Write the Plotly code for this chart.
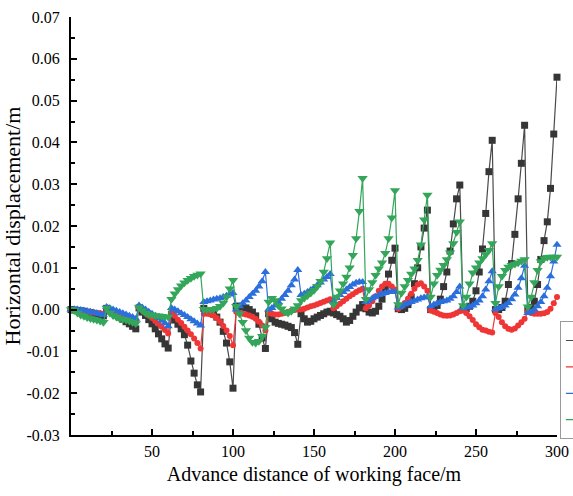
import plotly.graph_objects as go

# Advance distance of the working face (m), sampled every 2 m
advance = list(range(0, 302, 2))

# Horizontal displacement (m) of the four monitored series, one row per 20 m cycle
series_1 = [0.0,
    -0.0001, -0.0002, -0.0003, -0.0004, -0.0006, -0.0007, -0.0009, -0.0011, -0.0013, -0.0015,
    0.0003, -0.0003, -0.0008, -0.0013, -0.0018, -0.0023, -0.0029, -0.0034, -0.0040, -0.0046,
    0.0004, -0.0006, -0.0014, -0.0024, -0.0034, -0.0046, -0.0058, -0.0070, -0.0082, -0.0092,
    -0.0012, -0.0025, -0.0035, -0.0046, -0.0060, -0.0085, -0.0123, -0.0152, -0.0180, -0.0197,
    0.0003, -0.0002, -0.0006, -0.0011, -0.0018, -0.0030, -0.0052, -0.0080, -0.0125, -0.0188,
    0.0008, 0.0008, 0.0006, 0.0004, 0.0000, -0.0006, -0.0015, -0.0035, -0.0068, -0.0093,
    -0.0010, -0.0022, -0.0030, -0.0033, -0.0035, -0.0037, -0.0040, -0.0043, -0.0055, -0.0083,
    -0.0010, -0.0022, -0.0030, -0.0028, -0.0022, -0.0018, -0.0014, -0.0010, -0.0006, -0.0004,
    -0.0008, -0.0012, -0.0016, -0.0022, -0.0030, -0.0026, -0.0016, -0.0006, 0.0004, 0.0012,
    0.0002, -0.0006, -0.0008, -0.0004, 0.0008, 0.0025, 0.0050, 0.0085, 0.0118, 0.0147,
    0.0002, 0.0000, 0.0003, 0.0012, 0.0030, 0.0062, 0.0100, 0.0150, 0.0195, 0.0238,
    0.0000, 0.0003, 0.0010, 0.0025, 0.0055, 0.0090, 0.0140, 0.0205, 0.0265, 0.0298,
    0.0000, 0.0002, 0.0008, 0.0020, 0.0045, 0.0090, 0.0145, 0.0230, 0.0330, 0.0405,
    0.0000, 0.0000, 0.0005, 0.0020, 0.0060, 0.0110, 0.0180, 0.0265, 0.0350, 0.0441,
    0.0000, 0.0005, 0.0020, 0.0060, 0.0120, 0.0165, 0.0210, 0.0290, 0.0420, 0.0556]

series_2 = [0.0,
    -0.0001, -0.0002, -0.0003, -0.0004, -0.0005, -0.0006, -0.0007, -0.0008, -0.0009, -0.0010,
    0.0002, -0.0001, -0.0004, -0.0007, -0.0010, -0.0013, -0.0016, -0.0019, -0.0022, -0.0025,
    0.0004, -0.0002, -0.0008, -0.0014, -0.0020, -0.0027, -0.0034, -0.0041, -0.0049, -0.0057,
    -0.0005, -0.0015, -0.0024, -0.0032, -0.0041, -0.0050, -0.0059, -0.0069, -0.0080, -0.0093,
    -0.0010, -0.0010, -0.0011, -0.0014, -0.0020, -0.0029, -0.0039, -0.0050, -0.0063, -0.0085,
    -0.0005, -0.0008, -0.0010, -0.0012, -0.0014, -0.0017, -0.0022, -0.0029, -0.0038, -0.0050,
    -0.0008, -0.0010, -0.0012, -0.0012, -0.0010, -0.0008, -0.0005, -0.0003, -0.0001, 0.0000,
    0.0000, 0.0002, 0.0005, 0.0008, 0.0010, 0.0013, 0.0016, 0.0019, 0.0022, 0.0025,
    0.0003, 0.0008, 0.0014, 0.0020, 0.0026, 0.0032, 0.0037, 0.0042, 0.0046, 0.0050,
    0.0003, 0.0010, 0.0020, 0.0032, 0.0045, 0.0055, 0.0062, 0.0062, 0.0055, 0.0048,
    0.0002, 0.0008, 0.0016, 0.0026, 0.0038, 0.0050, 0.0060, 0.0063, 0.0055, 0.0045,
    -0.0002, -0.0005, -0.0008, -0.0012, -0.0014, -0.0015, -0.0014, -0.0012, -0.0008, -0.0004,
    -0.0002, -0.0008, -0.0016, -0.0025, -0.0035, -0.0042, -0.0048, -0.0050, -0.0053, -0.0055,
    -0.0008, -0.0018, -0.0030, -0.0040, -0.0046, -0.0048, -0.0045, -0.0038, -0.0030, -0.0022,
    -0.0005, -0.0008, -0.0010, -0.0010, -0.0010, -0.0009, -0.0006, 0.0002, 0.0015, 0.0030]

series_3 = [0.0,
    0.0001, 0.0000, -0.0001, -0.0002, -0.0004, -0.0005, -0.0007, -0.0009, -0.0011, -0.0013,
    0.0006, 0.0003, 0.0000, -0.0003, -0.0006, -0.0009, -0.0012, -0.0015, -0.0018, -0.0022,
    0.0010, 0.0005, 0.0000, -0.0005, -0.0010, -0.0015, -0.0020, -0.0026, -0.0032, -0.0040,
    0.0004, 0.0000, -0.0004, -0.0009, -0.0013, -0.0018, -0.0023, -0.0028, -0.0033, -0.0038,
    0.0018, 0.0020, 0.0022, 0.0024, 0.0026, 0.0027, 0.0030, 0.0033, 0.0036, 0.0040,
    0.0000, 0.0008, 0.0015, 0.0022, 0.0030, 0.0038, 0.0045, 0.0055, 0.0068, 0.0090,
    0.0000, 0.0004, 0.0010, 0.0018, 0.0026, 0.0035, 0.0045, 0.0058, 0.0072, 0.0095,
    0.0035, 0.0038, 0.0042, 0.0047, 0.0052, 0.0058, 0.0065, 0.0072, 0.0078, 0.0085,
    0.0020, 0.0028, 0.0035, 0.0042, 0.0048, 0.0054, 0.0060, 0.0064, 0.0066, 0.0066,
    0.0018, 0.0022, 0.0027, 0.0031, 0.0035, 0.0038, 0.0040, 0.0042, 0.0043, 0.0043,
    0.0005, 0.0008, 0.0012, 0.0015, 0.0018, 0.0021, 0.0024, 0.0027, 0.0029, 0.0031,
    0.0008, 0.0012, 0.0015, 0.0018, 0.0020, 0.0022, 0.0026, 0.0032, 0.0042, 0.0055,
    0.0003, 0.0005, 0.0007, 0.0010, 0.0015, 0.0022, 0.0032, 0.0048, 0.0068, 0.0092,
    0.0001, 0.0003, 0.0006, 0.0010, 0.0016, 0.0025, 0.0036, 0.0052, 0.0075, 0.0105,
    -0.0008, -0.0006, 0.0000, 0.0008, 0.0018, 0.0032, 0.0052, 0.0080, 0.0115, 0.0155]

series_4 = [0.0,
    -0.0002, -0.0008, -0.0013, -0.0016, -0.0019, -0.0021, -0.0023, -0.0025, -0.0027, -0.0030,
    0.0004, -0.0008, -0.0014, -0.0018, -0.0021, -0.0023, -0.0025, -0.0027, -0.0030, -0.0033,
    0.0005, -0.0002, -0.0008, -0.0012, -0.0013, -0.0014, -0.0015, -0.0016, -0.0017, -0.0018,
    0.0025, 0.0038, 0.0048, 0.0057, 0.0064, 0.0070, 0.0075, 0.0080, 0.0083, 0.0086,
    0.0001, 0.0000, 0.0000, 0.0001, 0.0003, 0.0008, 0.0016, 0.0030, 0.0050, 0.0070,
    0.0008, -0.0010, -0.0030, -0.0050, -0.0068, -0.0078, -0.0080, -0.0076, -0.0064, -0.0042,
    0.0018, 0.0027, 0.0022, 0.0010, 0.0002, -0.0006, -0.0008, -0.0004, 0.0002, 0.0010,
    0.0022, 0.0028, 0.0034, 0.0040, 0.0046, 0.0056, 0.0068, 0.0090, 0.0122, 0.0160,
    0.0012, 0.0030, 0.0045, 0.0062, 0.0078, 0.0100, 0.0130, 0.0170, 0.0235, 0.0314,
    0.0025, 0.0048, 0.0065, 0.0082, 0.0098, 0.0112, 0.0135, 0.0170, 0.0220, 0.0285,
    0.0012, 0.0040, 0.0055, 0.0070, 0.0085, 0.0098, 0.0118, 0.0155, 0.0215, 0.0274,
    0.0030, 0.0062, 0.0082, 0.0095, 0.0106, 0.0120, 0.0136, 0.0158, 0.0185, 0.0210,
    0.0010, 0.0030, 0.0062, 0.0088, 0.0100, 0.0112, 0.0122, 0.0132, 0.0142, 0.0158,
    0.0015, 0.0055, 0.0080, 0.0094, 0.0102, 0.0106, 0.0109, 0.0112, 0.0116, 0.0120,
    0.0007, 0.0030, 0.0065, 0.0094, 0.0115, 0.0122, 0.0125, 0.0126, 0.0126, 0.0126]

series_names = ["Scheme 1", "Scheme 2", "Scheme 3", "Scheme 4"]

x_tick_values = [50, 100, 150, 200, 250, 300]
x_minor_values = [25, 75, 125, 175, 225, 275]
y_tick_values = [-0.03, -0.02, -0.01, 0.0, 0.01, 0.02, 0.03, 0.04, 0.05, 0.06, 0.07]
y_tick_labels = ["-0.03", "-0.02", "-0.01", "0.00", "0.01", "0.02", "0.03",
                 "0.04", "0.05", "0.06", "0.07"]

styles = [
    dict(color="#363636", line="#4a4a4a", symbol="square", size=7),
    dict(color="#ef3535", line="#ef3535", symbol="circle", size=6),
    dict(color="#2b6fdc", line="#2b6fdc", symbol="triangle-up", size=8),
    dict(color="#33a65a", line="#33a65a", symbol="triangle-down", size=9),
]

fig = go.Figure()
for name, values, st in zip(series_names, [series_1, series_2, series_3, series_4], styles):
    fig.add_trace(go.Scatter(
        x=advance, y=values, name=name, mode="lines+markers",
        line=dict(color=st["line"], width=1.2),
        marker=dict(symbol=st["symbol"], size=st["size"], color=st["color"],
                    line=dict(width=0)),
        cliponaxis=False,
    ))

axis_font = dict(family="Liberation Serif", size=16, color="black")

fig.update_layout(
    width=573, height=496,
    margin=dict(l=71, r=16, t=17, b=61, autoexpand=False),
    plot_bgcolor="white", paper_bgcolor="white",
    font=dict(family="Liberation Serif", color="black"),
    legend=dict(x=1.006, y=0.272, xanchor="left", yanchor="top",
                bordercolor="#9a9a9a", borderwidth=1, bgcolor="white",
                font=dict(family="Liberation Serif", size=18)),
    xaxis=dict(
        range=[0, 300], tickmode="array", tickvals=x_tick_values,
        ticks="inside", ticklen=6, tickwidth=1.5, tickcolor="black",
        showline=True, linecolor="black", linewidth=2, mirror=False,
        showgrid=False, zeroline=False, tickfont=axis_font,
        ticklabelstandoff=1,
        minor=dict(ticks="inside", ticklen=4, tickwidth=1.5, tickcolor="black",
                   tickmode="array", tickvals=x_minor_values, showgrid=False),
        title=dict(text="Advance distance of working face/m",
                   font=dict(family="Liberation Serif", size=20, color="black"),
                   standoff=8),
    ),
    yaxis=dict(
        range=[-0.03, 0.07], tickmode="array", tickvals=y_tick_values,
        ticktext=y_tick_labels,
        ticks="inside", ticklen=6, tickwidth=1.5, tickcolor="black",
        showline=True, linecolor="black", linewidth=2, mirror=False,
        showgrid=False, zeroline=False, tickfont=axis_font,
        ticklabelstandoff=6,
        minor=dict(ticks="inside", ticklen=4, tickwidth=1.5, tickcolor="black",
                   dtick=0.005, showgrid=False),
        title=dict(text="Horizontal displacement/m",
                   font=dict(family="Liberation Serif", size=22, color="black"),
                   standoff=0),
    ),
)

fig.write_html("out.html")
